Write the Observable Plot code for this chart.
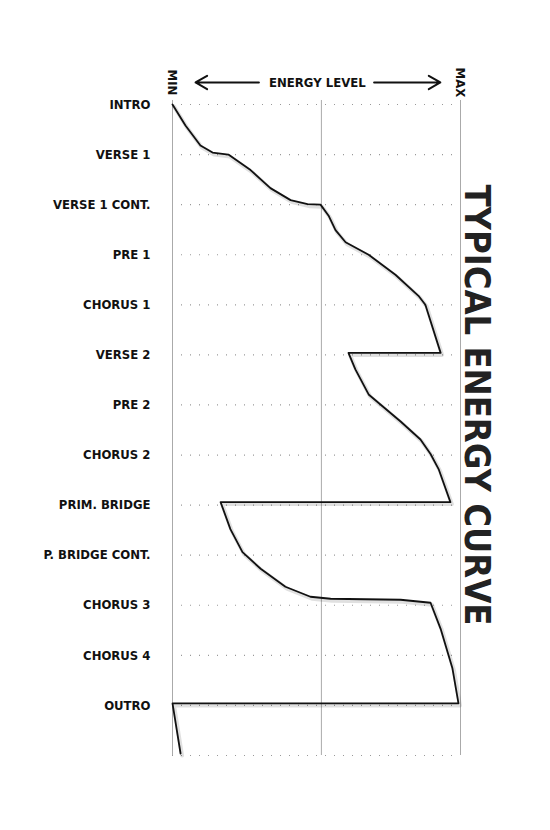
<!DOCTYPE html>
<html>
<head>
<meta charset="utf-8">
<script src="https://cdn.jsdelivr.net/npm/d3@7"></script>
<script src="https://cdn.jsdelivr.net/npm/@observablehq/plot@0.6"></script>
<style>
  body { margin: 0; background: #fff; }
  svg text { font-stretch: condensed; }
</style>
</head>
<body>
<div id="chart"></div>
<script>
// secciones de la cancion (de arriba abajo)
const sections = ["INTRO", "VERSE 1", "VERSE 1 CONT.", "PRE 1", "CHORUS 1", "VERSE 2", "PRE 2",
  "CHORUS 2", "PRIM. BRIDGE", "P. BRIDGE CONT.", "CHORUS 3", "CHORUS 4", "OUTRO"]

// curva: energia (0 = min, 100 = max) y posicion en filas
const energy = [0, 4.5, 9.7, 13.9, 19.4, 27.1, 34.0, 41.0, 46.9, 51.4, 54.2, 56.6, 60.1, 68.1, 77.4, 85.4, 87.8, 93.1,
  61.1, 63.5, 68.1, 72.2, 79.2, 86.1, 89.6, 92.4, 96.5,
  16.7, 20.1, 24.3, 30.6, 39.2, 47.9, 54.9, 79.2, 89.6, 93.1, 97.2, 99.3,
  0, 2.8]
const position = [0, 0.42, 0.82, 0.96, 1.0, 1.31, 1.67, 1.91, 1.99, 2.0, 2.22, 2.51, 2.75, 3.0, 3.4, 3.82, 4.0, 4.96,
  4.96, 5.29, 5.79, 5.99, 6.33, 6.69, 6.98, 7.28, 7.94,
  7.94, 8.48, 8.94, 9.27, 9.63, 9.83, 9.87, 9.89, 9.95, 10.47, 11.26, 11.96,
  11.96, 12.96]

const curve = energy.map((e, i) => ({ e, p: position[i] }))
const rows = d3.range(sections.length + 1)
const font = "'DejaVu Sans', sans-serif"

let chart = Plot.plot({
  width: 550,
  height: 830,
  marginTop: 104,
  marginBottom: 75,
  marginLeft: 172,
  marginRight: 90,
  x: { domain: [0, 100], axis: null },
  y: { domain: [0, 13], reverse: true, axis: null },
  style: { fontFamily: font, color: "#111" },
  marks: [
    Plot.ruleY(rows, { x1: 0, x2: 100, stroke: "#999", strokeDasharray: "1,8", strokeWidth: 1.2 }),
    Plot.ruleX([0, 51.7, 100], { y1: -0.08, y2: 13, stroke: "#aaa", strokeWidth: 1 }),
    Plot.text(sections, { x: 0, y: (d, i) => i, text: d => d, textAnchor: "end", dx: -22, fontSize: 13, fontWeight: "bold" }),
    // sombra
    Plot.line(curve, { x: "e", y: "p", stroke: "#000", strokeOpacity: 0.12, strokeWidth: 4, dx: 1.5, dy: 2 }),
    Plot.line(curve, { x: "e", y: "p", stroke: "#111", strokeWidth: 1.8 }),
    Plot.text(["ENERGY LEVEL"], { x: 50.3, y: -0.44, fontSize: 13, fontWeight: "bold" }),
    Plot.arrow([0], { x1: 30, x2: 8, y1: -0.44, y2: -0.44, strokeWidth: 2, headLength: 10, stroke: "#111" }),
    Plot.arrow([0], { x1: 70, x2: 93, y1: -0.44, y2: -0.44, strokeWidth: 2, headLength: 10, stroke: "#111" }),
    Plot.text(["MIN"], { x: 0, y: -0.44, rotate: 90, fontSize: 13, fontWeight: "bold" }),
    Plot.text(["MAX"], { x: 100, y: -0.44, rotate: 90, fontSize: 13, fontWeight: "bold" }),
    Plot.text(["TYPICAL ENERGY CURVE"], { x: 105.5, y: 6, rotate: 90, fontSize: 36, fontWeight: "bold", fill: "#222" })
  ]
})

d3.select('#chart').append(() => chart)
</script>
</body>
</html>
